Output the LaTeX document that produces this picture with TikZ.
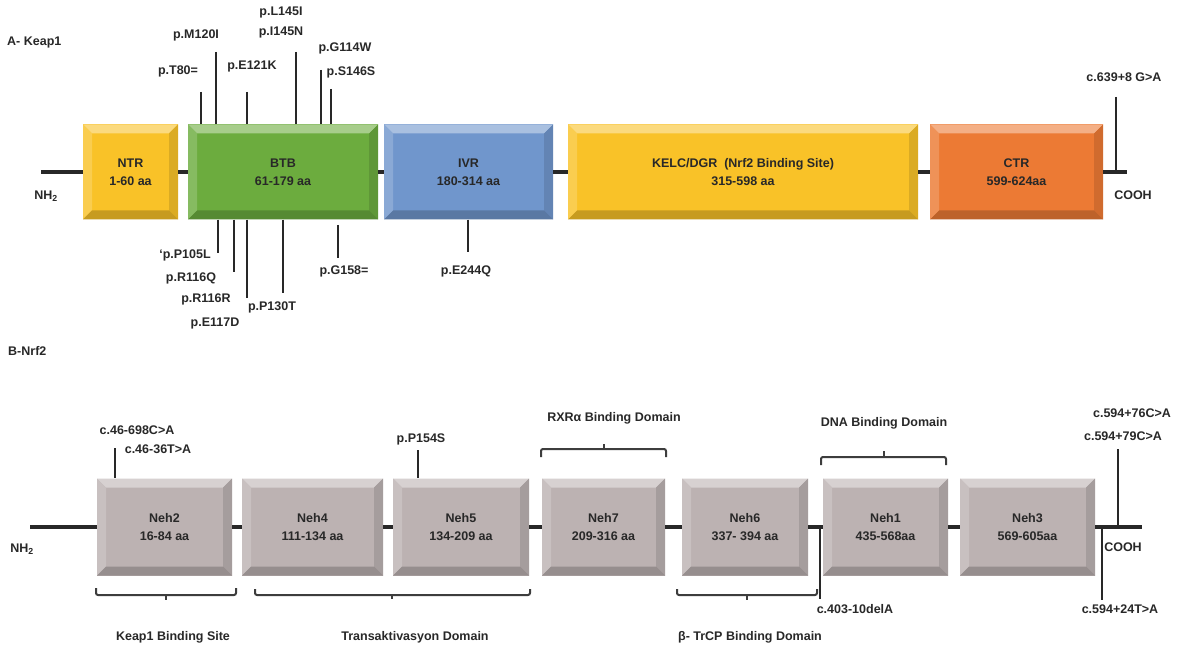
\documentclass[tikz,border=0pt]{standalone}
\usepackage{fontspec}
\setmainfont{Liberation Sans}
\definecolor{cYel}{RGB}{249,194,40}
\definecolor{cGrn}{RGB}{108,172,62}
\definecolor{cBlu}{RGB}{112,150,204}
\definecolor{cOrg}{RGB}{236,122,52}
\definecolor{cNeh}{RGB}{188,178,178}
\definecolor{ink}{RGB}{40,40,40}
\tikzset{
  bev/.style={rectangle, inner sep=0pt, fill=#1, align=center, text=ink,
    font=\bfseries\fontsize{12.5}{18}\selectfont,
    path picture={
      \fill[#1!60!white] (path picture bounding box.north west) -- (path picture bounding box.north east)
        -- ([shift={(-9,9)}]path picture bounding box.north east) -- ([shift={(9,9)}]path picture bounding box.north west) -- cycle;
      \fill[#1!82!white] (path picture bounding box.north west) -- ([shift={(9,9)}]path picture bounding box.north west)
        -- ([shift={(9,-9)}]path picture bounding box.south west) -- (path picture bounding box.south west) -- cycle;
      \fill[#1!88!black] (path picture bounding box.north east) -- ([shift={(-9,9)}]path picture bounding box.north east)
        -- ([shift={(-9,-9)}]path picture bounding box.south east) -- (path picture bounding box.south east) -- cycle;
      \fill[#1!80!black] (path picture bounding box.south west) -- ([shift={(9,-9)}]path picture bounding box.south west)
        -- ([shift={(-9,-9)}]path picture bounding box.south east) -- (path picture bounding box.south east) -- cycle;
    }},
  kbox/.style={bev=#1, minimum height=95pt},
  nbox/.style={bev=cNeh, minimum height=97pt},
  lab/.style={font=\bfseries\fontsize{12.5}{15}\selectfont, text=ink, inner sep=0pt},
  spine/.style={line width=3.4pt, draw=ink},
  mut/.style={line width=2.8pt, draw=ink},
  brk/.style={line width=2pt, draw=ink!90, rounded corners=2pt},
}
\begin{document}
\begin{tikzpicture}[x=1pt,y=-1pt]
\useasboundingbox (0,0) rectangle (1181,652);
\fill[white] (0,0) rectangle (1181,652);

% ---------------- A - Keap1 ----------------
\node[lab, anchor=west] (titA) at (7,43) {A- Keap1};

\coordinate (k0) at (41,172);
\coordinate (k1) at (1127,172);
\node[kbox=cYel, minimum width=95pt]  (ntr)  at (130.5,172) {NTR\\1-60 aa};
\node[kbox=cGrn, minimum width=190pt] (btb)  at (283,172)   {BTB\\61-179 aa};
\node[kbox=cBlu, minimum width=169pt] (ivr)  at (468.5,172) {IVR\\180-314 aa};
\node[kbox=cYel, minimum width=350pt] (kelc) at (743,172)   {KELC/DGR\ \ (Nrf2 Binding Site)\\315-598 aa};
\node[kbox=cOrg, minimum width=173pt] (ctr)  at (1016.5,172){CTR\\599-624aa};

\draw[spine] (k0) -- (ntr);
\draw[spine] (ntr) -- (btb);
\draw[spine] (btb) -- (ivr);
\draw[spine] (ivr) -- (kelc);
\draw[spine] (kelc) -- (ctr);
\draw[spine] (ctr) -- (k1);

\node[lab] (nh2a) at (46,196) {NH\textsubscript{2}};
\node[lab] (cooha) at (1133,195) {COOH};

% mutations above
\node[lab] (mT80)  at (178,71) {p.T80=};
\node[lab] (mM120) at (196,35) {p.M120I};
\node[lab] (mE121) at (252,66) {p.E121K};
\node[lab] (mL145) at (281,13) {p.L145I};
\node[lab] (mI145) at (281,33) {p.I145N};
\node[lab] (mG114) at (345,48) {p.G114W};
\node[lab] (mS146) at (351,72) {p.S146S};
\coordinate (t1) at (201,92);
\coordinate (t2) at (216,52);
\coordinate (t3) at (247,92);
\coordinate (t4) at (296,52);
\coordinate (t5) at (321,70);
\coordinate (t6) at (331,89);
\foreach \t in {t1,t2,t3,t4,t5,t6} \draw[mut] (\t) -- (\t |- btb.north);

% mutations below
\node[lab] (mP105) at (185,255) {`p.P105L};
\node[lab] (mR116Q) at (191,278) {p.R116Q};
\node[lab] (mR116R) at (206,299) {p.R116R};
\node[lab] (mE117) at (215,323) {p.E117D};
\node[lab] (mP130) at (272,307) {p.P130T};
\node[lab] (mG158) at (344,271) {p.G158=};
\node[lab] (mE244) at (466,271) {p.E244Q};
\coordinate (b1) at (218,253);
\coordinate (b2) at (234,272);
\coordinate (b3) at (247,298);
\coordinate (b4) at (283,293);
\foreach \b in {b1,b2,b3,b4} \draw[mut] (btb.south -| \b) -- (\b);
\coordinate (b5a) at (338,225);
\coordinate (b5) at (338,258);
\draw[mut] (b5a) -- (b5);
\coordinate (b6) at (468,252);
\draw[mut] (ivr.south -| b6) -- (b6);

\node[lab] (mc639) at (1124,77) {c.639+8 G>A};
\coordinate (c1) at (1116,97);
\draw[mut] (c1) -- (c1 |- k1);

% ---------------- B - Nrf2 ----------------
\node[lab, anchor=west] (titB) at (8,351) {B-Nrf2};

\coordinate (n0) at (30,527);
\coordinate (n1) at (1142,527);
\node[nbox, minimum width=135pt] (neh2) at (164.5,527) {Neh2\\16-84 aa};
\node[nbox, minimum width=141pt] (neh4) at (312.5,527) {Neh4\\111-134 aa};
\node[nbox, minimum width=136pt] (neh5) at (461,527)   {Neh5\\134-209 aa};
\node[nbox, minimum width=123pt] (neh7) at (603.5,527) {Neh7\\209-316 aa};
\node[nbox, minimum width=126pt] (neh6) at (745,527)   {Neh6\\337- 394 aa};
\node[nbox, minimum width=125pt] (neh1) at (885.5,527) {Neh1\\435-568aa};
\node[nbox, minimum width=135pt] (neh3) at (1027.5,527){Neh3\\569-605aa};

\draw[spine] (n0) -- (neh2);
\draw[spine] (neh2) -- (neh4);
\draw[spine] (neh4) -- (neh5);
\draw[spine] (neh5) -- (neh7);
\draw[spine] (neh7) -- (neh6);
\draw[spine] (neh6) -- (neh1);
\draw[spine] (neh1) -- (neh3);
\draw[spine] (neh3) -- (n1);

\node[lab] (nh2b) at (22,549) {NH\textsubscript{2}};
\node[lab] (coohb) at (1123,547) {COOH};

% mutations
\node[lab] (m698) at (137,430) {c.46-698C>A};
\node[lab] (m36)  at (158,449) {c.46-36T>A};
\coordinate (u1) at (115,448);
\draw[mut] (u1) -- (u1 |- neh2.north);

\node[lab] (mP154) at (421,439) {p.P154S};
\coordinate (u2) at (418,450);
\draw[mut] (u2) -- (u2 |- neh5.north);

\node[lab] (m76) at (1132,413) {c.594+76C>A};
\node[lab] (m79) at (1123,436) {c.594+79C>A};
\coordinate (u3) at (1118,449);
\draw[mut] (u3) -- (u3 |- n1);

\node[lab] (m24) at (1120,609) {c.594+24T>A};
\coordinate (u4) at (1102,600);
\draw[mut] (u4 |- n1) -- (u4);

\node[lab] (mdel) at (855,609) {c.403-10delA};
\coordinate (u5) at (820,599);
\coordinate (u5t) at (820,527);
\draw[mut] (u5t) -- (u5);

% brackets above
\node[lab] (rxr) at (614,418) {RXRα Binding Domain};
\draw[brk] (541,457) -- (541,449) -- (666,449) -- (666,457);
\draw[brk] (603.5,449) -- (603.5,444);
\node[lab] (dna) at (884,423) {DNA Binding Domain};
\draw[brk] (821,465) -- (821,457) -- (946,457) -- (946,465);
\draw[brk] (883.5,457) -- (883.5,451);

% brackets below
\draw[brk] (96,588) -- (96,595) -- (236,595) -- (236,588);
\draw[brk] (166,595) -- (166,600);
\draw[brk] (255,589) -- (255,595) -- (530,595) -- (530,589);
\draw[brk] (392,595) -- (392,599);
\draw[brk] (677,589) -- (677,595) -- (817,595) -- (817,589);
\draw[brk] (747,595) -- (747,600);

\node[lab] (keapbs) at (173,637) {Keap1 Binding Site};
\node[lab] (trans)  at (415,637) {Transaktivasyon Domain};
\node[lab] (btrcp)  at (750,637) {β- TrCP Binding Domain};
\end{tikzpicture}
\end{document}
